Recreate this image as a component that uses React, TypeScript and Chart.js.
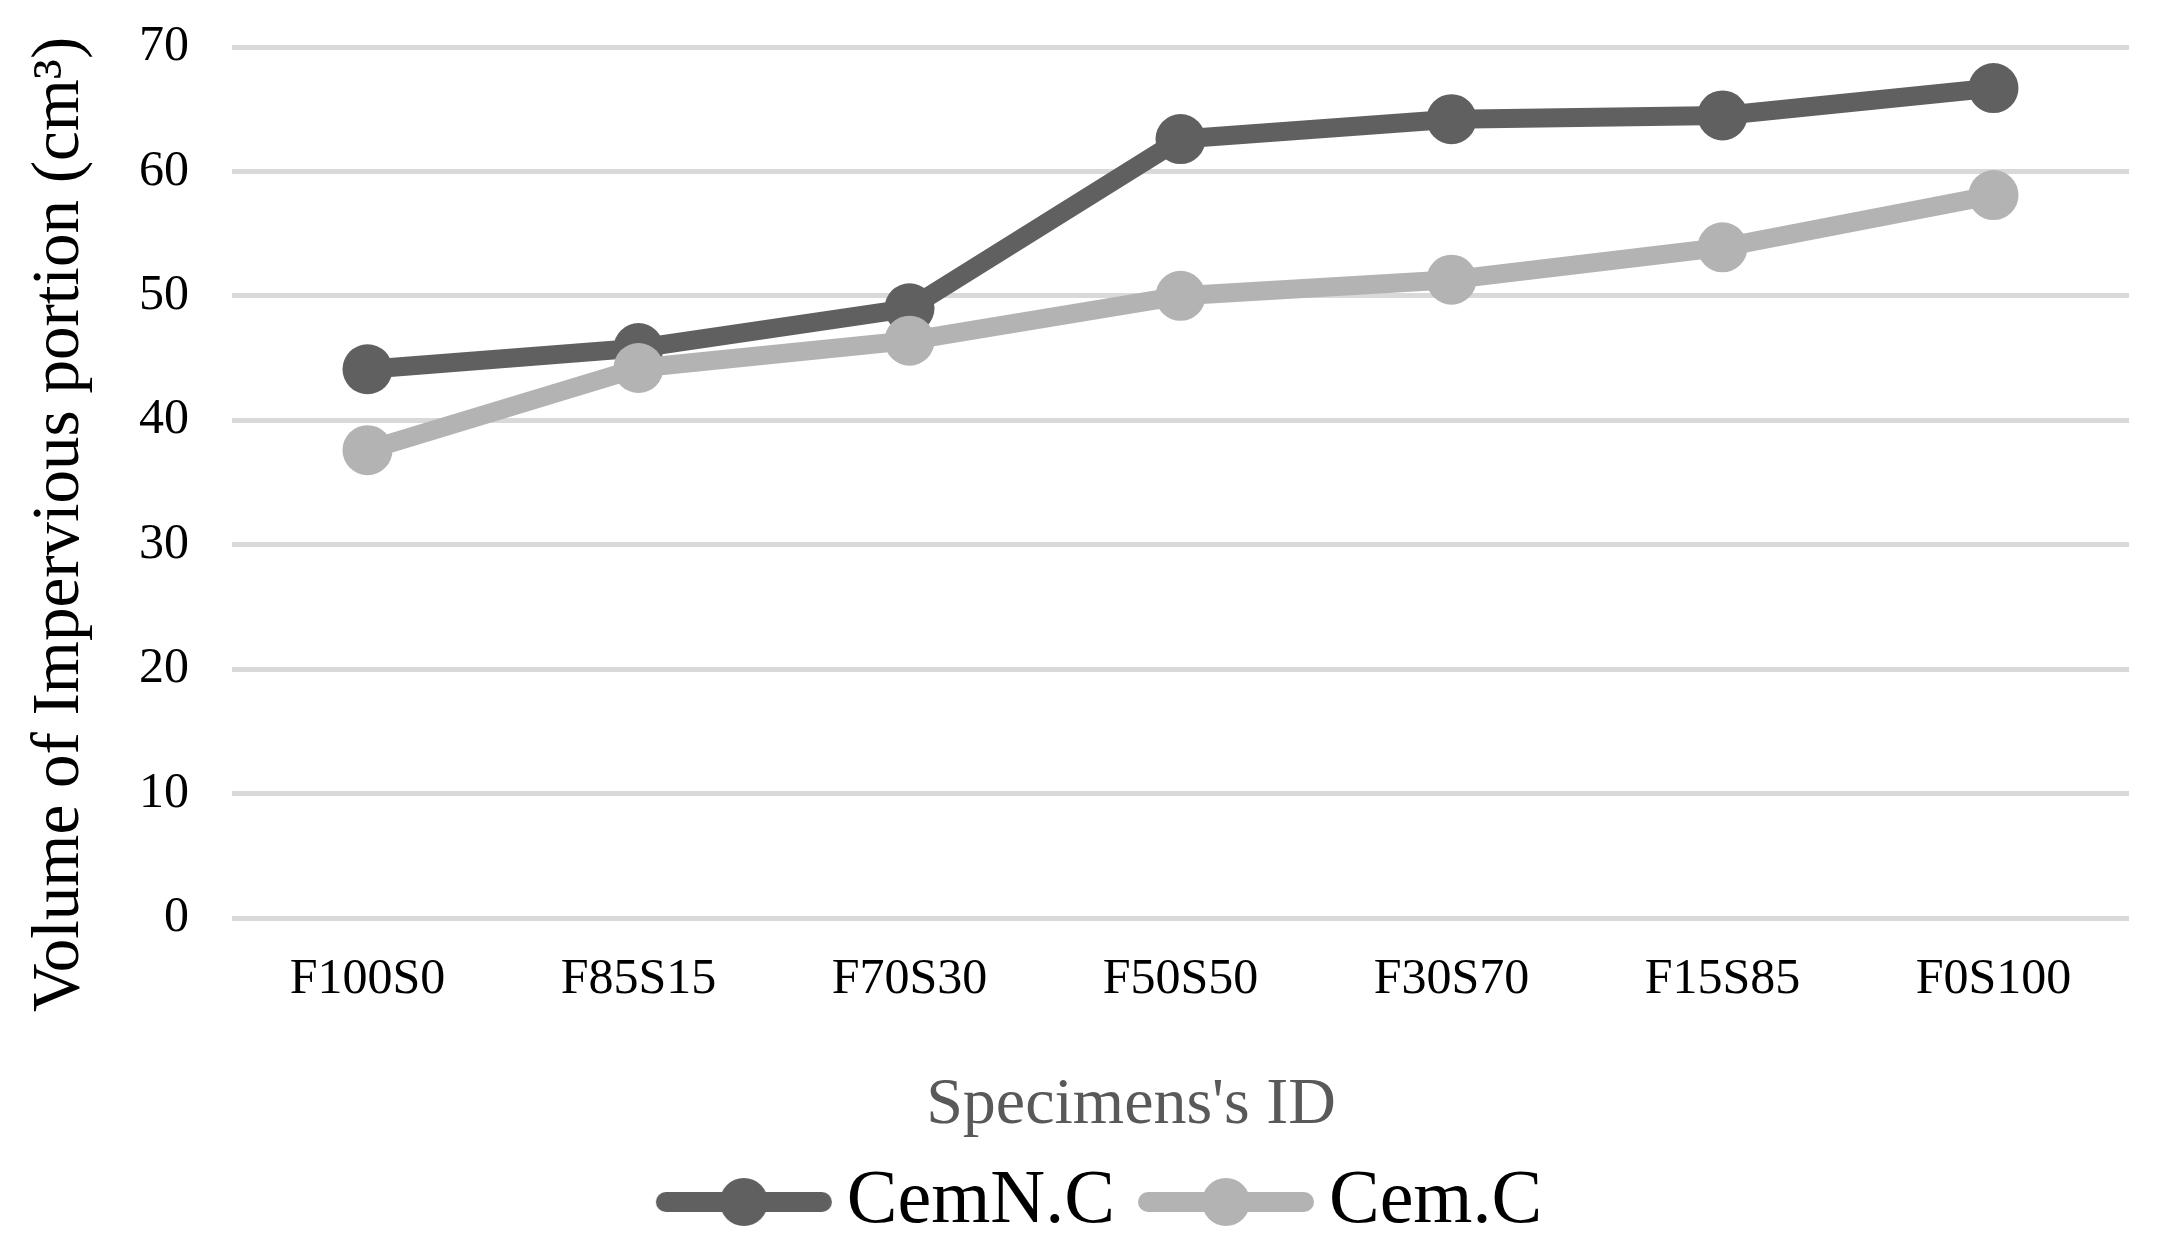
import React, { useEffect, useRef } from "react";
import { Chart, registerables } from "chart.js";

Chart.register(...registerables);

const categories = ["F100S0", "F85S15", "F70S30", "F50S50", "F30S70", "F15S85", "F0S100"];
const cemNC = [44.1, 45.8, 49.0, 62.6, 64.2, 64.5, 66.7];
const cemC = [37.6, 44.2, 46.4, 50.0, 51.3, 53.9, 58.1];
const seriesNames = ["CemN.C", "Cem.C"];
const seriesColors = ["#606060", "#b3b3b3"];
const yMin = 0;
const yMax = 70;
const yStep = 10;
const NBSP5 = "\u00A0\u00A0\u00A0\u00A0\u00A0";
const xTitle = "Specimens's ID" + NBSP5 + "\u00A0";
const yTitle = "Volume of Impervious portion (cm\u00B3)" + NBSP5;

const FONT = "'Liberation Serif', 'Times New Roman', serif";

function makeLegendImage(color: string): HTMLCanvasElement {
  const c = document.createElement("canvas");
  c.width = 222;
  c.height = 60;
  const ctx = c.getContext("2d")!;
  const a = 44;
  ctx.strokeStyle = color;
  ctx.lineWidth = 20;
  ctx.lineCap = "round";
  ctx.beginPath();
  ctx.moveTo(a + 10, 30);
  ctx.lineTo(a + 166, 30);
  ctx.stroke();
  ctx.fillStyle = color;
  ctx.beginPath();
  ctx.arc(a + 88, 30, 24, 0, Math.PI * 2);
  ctx.fill();
  return c;
}

export default function App() {
  const ref = useRef<HTMLCanvasElement | null>(null);

  useEffect(() => {
    document.body.style.margin = "0";
    const canvas = ref.current;
    if (!canvas) return;
    const images = seriesColors.map((c) => makeLegendImage(c));
    const chart = new Chart(canvas, {
      type: "line",
      data: {
        labels: categories,
        datasets: [
          {
            label: seriesNames[0],
            data: cemNC,
            borderColor: seriesColors[0],
            backgroundColor: seriesColors[0],
            pointBackgroundColor: seriesColors[0],
            borderWidth: 19,
            pointRadius: 25,
            pointBorderWidth: 0,
            borderJoinStyle: "round",
            order: 1,
          },
          {
            label: seriesNames[1],
            data: cemC,
            borderColor: seriesColors[1],
            backgroundColor: seriesColors[1],
            pointBackgroundColor: seriesColors[1],
            borderWidth: 19,
            pointRadius: 25,
            pointBorderWidth: 0,
            borderJoinStyle: "round",
            order: 0,
          },
        ],
      },
      options: {
        animation: false,
        responsive: true,
        maintainAspectRatio: false,
        layout: { padding: { left: 50, right: 36, top: 47, bottom: 10 } },
        plugins: {
          tooltip: { enabled: false },
          legend: {
            position: "bottom",
            labels: {
              usePointStyle: true,
              pointStyleWidth: 172,
              padding: 4,
              color: "#000",
              font: { family: FONT, size: 76 },
              generateLabels: () =>
                seriesNames.map((name, i) => ({
                  text: name,
                  fillStyle: seriesColors[i],
                  strokeStyle: seriesColors[i],
                  lineWidth: 0,
                  pointStyle: images[i],
                  hidden: false,
                  datasetIndex: i,
                  fontColor: "#000",
                })),
            },
          },
        },
        scales: {
          x: {
            offset: true,
            grid: { display: false },
            border: { display: false },
            ticks: {
              color: "#000",
              font: { family: FONT, size: 50 },
              padding: 24,
              maxRotation: 0,
              autoSkip: false,
            },
            title: {
              display: true,
              text: xTitle,
              color: "#595959",
              font: { family: FONT, size: 66 },
              padding: { top: 0, bottom: 15 },
            },
            afterFit: (scale: any) => {
              scale.height = 242;
            },
          },
          y: {
            min: yMin,
            max: yMax,
            grid: { color: "#d9d9d9", lineWidth: 5, drawTicks: false },
            border: { display: false },
            ticks: {
              stepSize: yStep,
              color: "#000",
              font: { family: FONT, size: 50 },
              padding: 43,
            },
            title: {
              display: true,
              text: yTitle,
              color: "#000",
              font: { family: FONT, size: 67 },
              padding: { top: -30, bottom: 0 },
            },
            afterFit: (scale: any) => {
              scale.width = 182;
              scale.paddingTop = 0;
              scale.paddingBottom = 0;
            },
          },
        },
      },
    });
    return () => chart.destroy();
  }, []);

  return (
    <div style={{ position: "absolute", left: 0, top: 0, width: 2165, height: 1260 }}>
      <canvas ref={ref} />
    </div>
  );
}
